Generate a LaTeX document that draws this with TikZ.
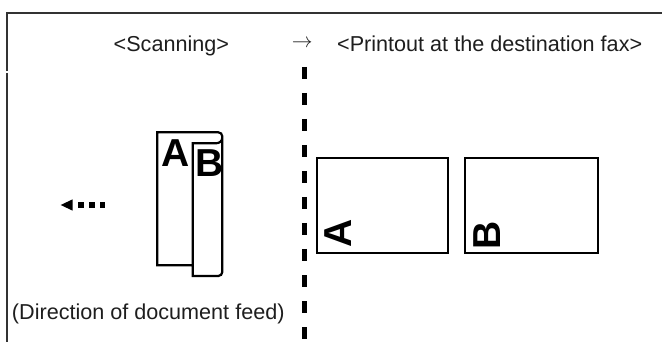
\documentclass[tikz,border=0pt]{standalone}
\usepackage{fontspec}
\setmainfont{Liberation Sans}
\definecolor{ink}{HTML}{1E1E1E}
\definecolor{framec}{HTML}{333333}
\begin{document}
\begin{tikzpicture}[x=1pt,y=-1pt,
  lbl/.style={inner sep=0pt, anchor=base west, font=\fontsize{21.6}{22}\selectfont, text=ink},
  big/.style={inner sep=0pt, anchor=base west, font=\fontsize{39}{39}\selectfont\bfseries},
  pg/.style={line width=2.2pt, draw=black},
  framel/.style={line width=2pt, draw=framec},
  sep/.style={line width=5pt, dash pattern=on 12pt off 14pt},
  feed/.style={line width=6.6pt, dash pattern=on 5.7pt off 5.2pt}]
\useasboundingbox (0,0) rectangle (662,342);
% frame
\draw[framel] (662,13) -- (7,13) -- (7,71);
\draw[framel] (7,73) -- (7,342);
% separator
\coordinate (s1) at (304.7,67);
\coordinate (s2) at (304.7,342);
\draw[sep] (s1) -- (s2);
% titles
\node[lbl] (scan) at (113.5,51.7) {<Scanning>};
\node[inner sep=0pt, font=\fontsize{22}{22}\selectfont, text=ink] (arr) at (302.2,43.3) {$\rightarrow$};
\node[lbl] (print) at (337,52) {<Printout at the destination fax>};
\node[lbl] (dir) at (11.8,319.3) {(Direction of document feed)};
% document being scanned
\draw[pg] (192.7,265.3) -- (157.3,265.3) -- (157.3,132.3) -- (218.3,132.3)
  .. controls (220.5,132.3) and (222.3,134.1) .. (222.3,136.3) -- (222.3,272)
  .. controls (222.3,274.2) and (220.5,276) .. (218.3,276) -- (192.7,276)
  -- (192.7,143.3) -- (216,143.3)
  .. controls (219.5,143.3) and (222.3,141) .. (222.3,137.5);
\node[big] (dA) at (161.2,166.2) {A};
\node[big] (dB) at (195.2,176.8) {B};
% feed direction arrow
\fill[black] (60.7,205) -- (72.7,199.3) -- (72.7,210.7) -- cycle;
\coordinate (f1) at (78.3,205);
\coordinate (f2) at (105,205);
\draw[feed] (f1) -- (f2);
% printouts
\draw[pg] (317,158.3) rectangle (448.3,253);
\draw[pg] (465,158.3) rectangle (598.3,253);
\node[big, rotate=90] (pA) at (351.9,247.8) {A};
\node[big, rotate=90] (pB) at (500.2,250.2) {B};
\end{tikzpicture}
\end{document}
